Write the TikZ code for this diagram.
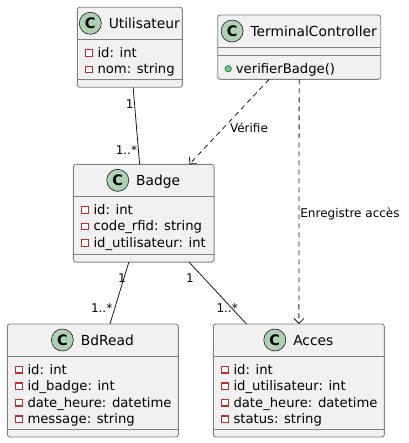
\documentclass[tikz,border=0pt]{standalone}
\usepackage{fontspec}
\setmainfont{DejaVu Sans}
\usetikzlibrary{positioning,arrows.meta}
\definecolor{boxfill}{HTML}{F1F1F1}
\definecolor{boxline}{HTML}{808080}
\definecolor{edgeline}{HTML}{181818}
\definecolor{iconfill}{HTML}{ADD1B2}
\definecolor{privred}{HTML}{C82930}
\definecolor{pubfill}{HTML}{84BE84}
\definecolor{publine}{HTML}{038048}

\begin{document}
\begin{tikzpicture}[x=1pt,y=-1pt,
    classbox/.style={draw=boxline,line width=0.9pt,fill=boxfill,rounded corners=2.5pt,outer sep=0pt,inner sep=0pt},
    sep/.style={draw=boxline,line width=0.9pt},
    cname/.style={font=\fontsize{13.8}{16}\selectfont,inner sep=0pt,text height=10pt,text depth=0pt},
    cicon/.style={circle,draw=edgeline,line width=0.6pt,fill=iconfill,minimum size=22pt,inner sep=0pt,font=\fontsize{14.5}{14}\selectfont\bfseries},
    attr/.style={font=\fontsize{13.2}{16}\selectfont,inner sep=0pt,anchor=base west},
    privmark/.style={draw=privred,fill=white,line width=1.2pt},
    pubmark/.style={draw=publine,fill=pubfill,line width=0.6pt},
    assoc/.style={draw=edgeline,line width=0.8pt},
    dep/.style={assoc,dash pattern=on 5pt off 4pt,-{Straight Barb[length=5pt,width=10pt]}},
    mult/.style={font=\fontsize{12}{14}\selectfont,inner sep=1pt}]
    \useasboundingbox (0,0) rectangle (408,443);
    %definitions
    \node[classbox,minimum width=105pt,minimum height=80pt] (util) at (129.8,47.3) {};
    \node[classbox,minimum width=163pt,minimum height=64.3pt] (term) at (299.2,47.2) {};
    \node[classbox,minimum width=140.7pt,minimum height=97.7pt] (badge) at (143.7,213.2) {};
    \node[classbox,minimum width=171pt,minimum height=113pt] (bdread) at (92.8,380.5) {};
    \node[classbox,minimum width=171pt,minimum height=113pt] (acces) at (298.8,380.5) {};
    %headers
    \node[cname] (utilname) at ([xshift=14.5pt,yshift=-16pt]util.north) {Utilisateur};
    \node[cicon,left=7pt of utilname] (utilicon) {C};
    \node[cname] (termname) at ([xshift=14.5pt,yshift=-16pt]term.north) {TerminalController};
    \node[cicon,left=7pt of termname] (termicon) {C};
    \node[cname] (badgename) at ([xshift=14.5pt,yshift=-16pt]badge.north) {Badge};
    \node[cicon,left=7pt of badgename] (badgeicon) {C};
    \node[cname] (bdreadname) at ([xshift=14.5pt,yshift=-16pt]bdread.north) {BdRead};
    \node[cicon,left=7pt of bdreadname] (bdreadicon) {C};
    \node[cname] (accesname) at ([xshift=14.5pt,yshift=-16pt]acces.north) {Acces};
    \node[cicon,left=7pt of accesname] (accesicon) {C};
    %separators
    \draw[sep] ([yshift=-32pt]util.north west) -- ([yshift=-32pt]util.north east);
    \draw[sep] ([yshift=8pt]util.south west) -- ([yshift=8pt]util.south east);
    \draw[sep] ([yshift=-32.7pt]term.north west) -- ([yshift=-32.7pt]term.north east);
    \draw[sep] ([yshift=-40.7pt]term.north west) -- ([yshift=-40.7pt]term.north east);
    \draw[sep] ([yshift=-32pt]badge.north west) -- ([yshift=-32pt]badge.north east);
    \draw[sep] ([yshift=8pt]badge.south west) -- ([yshift=8pt]badge.south east);
    \draw[sep] ([yshift=-32pt]bdread.north west) -- ([yshift=-32pt]bdread.north east);
    \draw[sep] ([yshift=8pt]bdread.south west) -- ([yshift=8pt]bdread.south east);
    \draw[sep] ([yshift=-32pt]acces.north west) -- ([yshift=-32pt]acces.north east);
    \draw[sep] ([yshift=8pt]acces.south west) -- ([yshift=8pt]acces.south east);
    %attributes
    \foreach \txt [count=\i] in {id: int,nom: string}{
      \node[attr] (utilattr\i) at ([xshift=20pt,yshift={-50-16.5*(\i-1)}]util.north west) {\txt};
      \draw[privmark] ([xshift=-11.6pt,yshift=1pt]utilattr\i.base west) rectangle ++(6.6,-6.6);
    }
    \node[attr] (termop) at ([xshift=18pt,yshift=-58.2pt]term.north west) {verifierBadge()};
    \draw[pubmark] ([xshift=-7.4pt,yshift=4.5pt]termop.base west) circle (3.2);
    \foreach \txt [count=\i] in {id: int,code\_rfid: string,id\_utilisateur: int}{
      \node[attr] (badgeattr\i) at ([xshift=20pt,yshift={-50-16.5*(\i-1)}]badge.north west) {\txt};
      \draw[privmark] ([xshift=-11.6pt,yshift=1pt]badgeattr\i.base west) rectangle ++(6.6,-6.6);
    }
    \foreach \txt [count=\i] in {id: int,id\_badge: int,date\_heure: datetime,message: string}{
      \node[attr] (bdreadattr\i) at ([xshift=20pt,yshift={-50-16.5*(\i-1)}]bdread.north west) {\txt};
      \draw[privmark] ([xshift=-11.6pt,yshift=1pt]bdreadattr\i.base west) rectangle ++(6.6,-6.6);
    }
    \foreach \txt [count=\i] in {id: int,id\_utilisateur: int,date\_heure: datetime,status: string}{
      \node[attr] (accesattr\i) at ([xshift=20pt,yshift={-50-16.5*(\i-1)}]acces.north west) {\txt};
      \draw[privmark] ([xshift=-11.6pt,yshift=1pt]accesattr\i.base west) rectangle ++(6.6,-6.6);
    }
    %drawing
    \draw[assoc] (util) -- node[mult,pos=0.22,xshift=-5pt] (m1) {1}
      node[mult,pos=0.81,xshift=-12pt] (m2) {1..*} (badge);
    \draw[assoc] (badge) -- node[mult,pos=0.26,xshift=-2pt] (m3) {1}
      node[mult,pos=0.75,xshift=-13pt] (m4) {1..*} (bdread);
    \draw[assoc] (badge) -- node[mult,pos=0.26,xshift=-14pt] (m5) {1}
      node[mult,pos=0.75,xshift=-5pt] (m6) {1..*} (acces);
    %label
    \draw[dep] (term) -- node[mult,pos=0.57,right=5pt] (verif) {Vérifie} (badge);
    \draw[dep] (term) -- node[mult,pos=0.55,right=0pt] (enreg) {Enregistre accès} (acces);
\end{tikzpicture}
\end{document}
